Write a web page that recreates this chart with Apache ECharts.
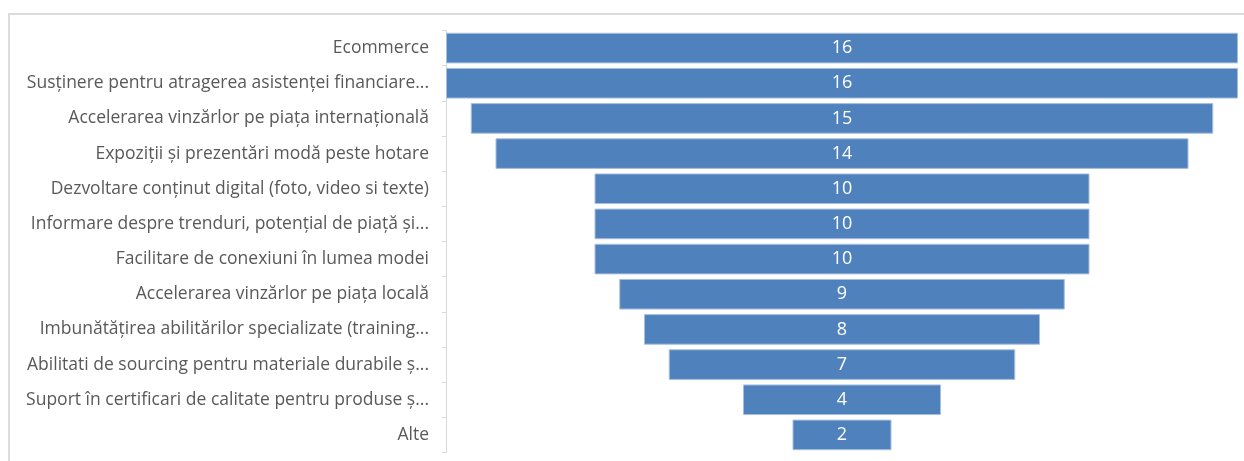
<!DOCTYPE html>
<html>
<head>
<meta charset="utf-8">
<script src="https://cdn.jsdelivr.net/npm/echarts@6/dist/echarts.min.js"></script>
<style>
  html, body { margin: 0; padding: 0; background: #fff; }
  #frame { position: absolute; left: 8px; top: 13px; width: 1240px; height: 460px;
           border-left: 2px solid #dcdcdc; border-top: 2px solid #dcdcdc; }
  #chart { position: absolute; left: 0; top: 0; width: 1244px; height: 461px; }
</style>
</head>
<body>
<div id="frame"></div>
<div id="chart"></div>
<script>
// categorii (de sus in jos)
const categories = [
  'Ecommerce',
  'Susținere pentru atragerea asistenței financiare...',
  'Accelerarea vinzărlor pe piața internațională',
  'Expoziții și prezentări modă peste hotare',
  'Dezvoltare conținut digital (foto, video si texte)',
  'Informare despre trenduri, potențial de piață și...',
  'Facilitare de conexiuni în lumea modei',
  'Accelerarea vinzărlor pe piața locală',
  'Imbunătățirea abilitărilor specializate (training...',
  'Abilitati de sourcing pentru materiale durabile ș...',
  'Suport în certificari de calitate pentru produse ș...',
  'Alte'
]
const values = [16, 16, 15, 14, 10, 10, 10, 9, 8, 7, 4, 2]
const maxValue = 16

// offset invizibil ca barele sa fie centrate (forma de palnie)
const offsets = values.map(v => (maxValue - v) / 2)

let myChart = echarts.init(document.getElementById('chart'))

const option = {
  animation: false,
  grid: {
    left: 446,
    width: 792,
    top: 30.5,
    height: 422
  },
  xAxis: {
    type: 'value',
    min: 0,
    max: maxValue,
    show: false
  },
  yAxis: {
    type: 'category',
    inverse: true,
    data: categories,
    axisLine: { show: true, lineStyle: { color: '#d9d9d9', width: 1 } },
    axisTick: { show: true, length: 4, lineStyle: { color: '#d9d9d9' } },
    axisLabel: {
      color: '#595959',
      fontFamily: 'Open Sans',
      fontSize: 17.5,
      margin: 17
    },
    splitLine: { show: false }
  },
  series: [
    {
      name: 'offset',
      type: 'bar',
      stack: 'f',
      data: offsets,
      itemStyle: { color: 'transparent' },
      silent: true,
      barCategoryGap: '13%'
    },
    {
      name: 'valoare',
      type: 'bar',
      stack: 'f',
      data: values,
      barCategoryGap: '13%',
      itemStyle: {
        color: '#4f81bd',
        borderColor: '#a7bfdf',
        borderWidth: 1
      },
      label: {
        show: true,
        position: 'inside',
        color: '#ffffff',
        fontFamily: 'Open Sans',
        fontSize: 18
      }
    }
  ]
}

myChart.setOption(option)
window.addEventListener('resize', function () {
  myChart.resize()
})
</script>
</body>
</html>
